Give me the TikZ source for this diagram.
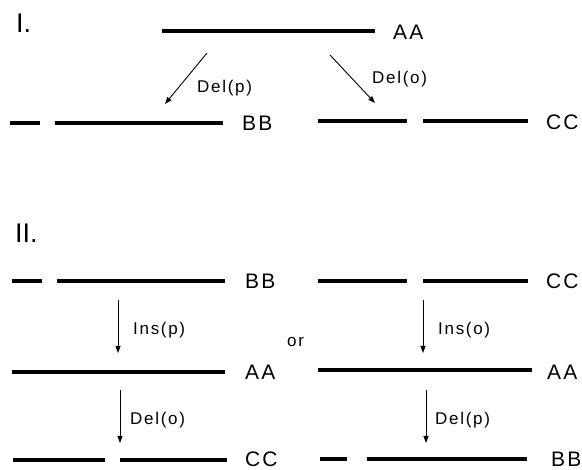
\documentclass[tikz,border=0pt]{standalone}
\usepackage{fontspec}
\setmainfont{Liberation Sans}
\newfontfamily\spfont[LetterSpace=10]{Liberation Sans}
\usetikzlibrary{arrows.meta}
\begin{document}
\begin{tikzpicture}[x=1pt,y=-1pt,
  seg/.style={line width=3.1pt},
  arr/.style={line width=0.9pt,-{Triangle[length=7pt,width=5pt]}},
  seqname/.style={font=\spfont\fontsize{21}{21}\selectfont, inner sep=0pt, anchor=west},
  lab/.style={font=\spfont\fontsize{17}{17}\selectfont, inner sep=0pt, anchor=west},
  part/.style={font=\fontsize{27}{27}\selectfont, inner sep=0pt, anchor=base west}]
\useasboundingbox (0,0) rectangle (582,470);
% ---------- Part I ----------
\node[part] (p1) at (16,33) {I.};
\draw[seg] (162,31) coordinate (a1) -- (375,31) coordinate (a2);
\node[seqname] (tAA) at (393,32) {AA};
\draw[seg] (10,123) -- (40,123);
\draw[seg] (55,123) -- (223,123);
\node[seqname] (tBB) at (242,123) {BB};
\draw[seg] (318,121) -- (407,121);
\draw[seg] (423,121) -- (528,121);
\node[seqname] (tCC) at (546,122) {CC};
\coordinate (d1s) at (207,53); \coordinate (d1e) at (165,104);
\coordinate (d2s) at (330,55); \coordinate (d2e) at (375,103);
\draw[arr] (d1s) -- (d1e);
\draw[arr] (d2s) -- (d2e);
\node[lab] (lDp) at (197,88) {Del(p)};
\node[lab] (lDo) at (372,79) {Del(o)};
% ---------- Part II ----------
\node[part] (p2) at (15,243) {II.};
% row 1
\draw[seg] (12,281) -- (42,281);
\draw[seg] (57,281) -- (225,281);
\node[seqname] (r1BB) at (245,281) {BB};
\draw[seg] (318,281) -- (407,281);
\draw[seg] (423,281) -- (528,281);
\node[seqname] (r1CC) at (546,281) {CC};
% row 2
\draw[seg] (12,372) -- (225,372);
\node[seqname] (r2AAl) at (245,372) {AA};
\draw[seg] (318,370) -- (532,370);
\node[seqname] (r2AAr) at (547,372) {AA};
% row 3
\draw[seg] (13,460) -- (105,460);
\draw[seg] (120,460) -- (227,460);
\node[seqname] (r3CC) at (245,459) {CC};
\draw[seg] (320,459) -- (347,459);
\draw[seg] (367,459) -- (527,459);
\node[seqname] (r3BB) at (551,459) {BB};
% arrows
\coordinate (i1s) at (118,300); \coordinate (i1e) at (118,353);
\coordinate (i2s) at (423,300); \coordinate (i2e) at (423,353);
\coordinate (e1s) at (120,390); \coordinate (e1e) at (120,443);
\coordinate (e2s) at (426,390); \coordinate (e2e) at (426,443);
\draw[arr] (i1s) -- (i1e);
\draw[arr] (i2s) -- (i2e);
\draw[arr] (e1s) -- (e1e);
\draw[arr] (e2s) -- (e2e);
\node[lab] (lIp) at (133,330) {Ins(p)};
\node[lab] (lIo) at (438,330) {Ins(o)};
\node[lab] (lor) at (287,342) {or};
\node[lab] (lDo2) at (130,420) {Del(o)};
\node[lab] (lDp2) at (435,420) {Del(p)};
\end{tikzpicture}
\end{document}
